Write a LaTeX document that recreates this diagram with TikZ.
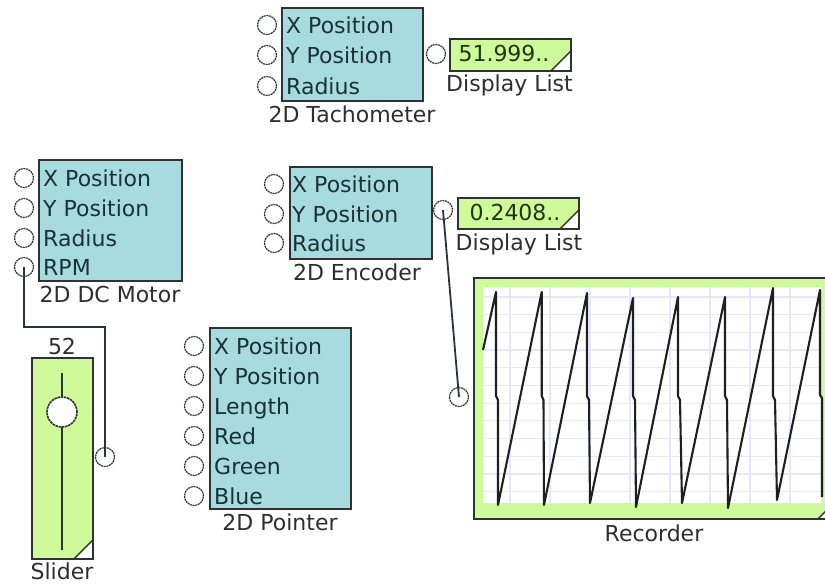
\documentclass[tikz,border=0pt]{standalone}
\usepackage{fontspec}
\setmainfont{DejaVu Sans}
\definecolor{blkfill}{RGB}{168,219,223}
\definecolor{grn}{RGB}{206,250,154}
\definecolor{edge}{RGB}{45,50,50}
\definecolor{pintext}{RGB}{25,50,55}
\definecolor{captext}{RGB}{45,45,50}
\definecolor{disptext}{RGB}{35,50,20}
\definecolor{gridc}{RGB}{230,230,252}
\begin{document}
\begin{tikzpicture}[x=1pt,y=-1pt,
  every node/.style={font=\fontsize{22}{26}\selectfont},
  blk/.style={draw=edge, line width=1.9pt, fill=blkfill, anchor=north west, inner sep=0pt},
  grnbox/.style={blk, fill=grn},
  cornertri/.style={path picture={
    \fill[white] ([xshift=-#1]path picture bounding box.south east) -- (path picture bounding box.south east) -- ([yshift=#1]path picture bounding box.south east) -- cycle;
    \draw[edge, line width=1.4pt] ([xshift=-#1]path picture bounding box.south east) -- ([yshift=#1]path picture bounding box.south east);}},
  portc/.style={circle, draw=edge, line width=1.2pt, dash pattern=on 2pt off 0.7pt, minimum size=19pt, inner sep=0pt},
  pinlbl/.style={anchor=base west, text=pintext, inner sep=0pt},
  captxt/.style={anchor=base, text=captext, inner sep=0pt},
  disptxt/.style={anchor=base, text=disptext, inner sep=0pt},
  wire/.style={draw=edge, line width=1.8pt},
  sawtrace/.style={draw=black!88, line width=2.1pt, line join=round},
]
\useasboundingbox (0,0) rectangle (825,584);

% ---------- 2D Tachometer ----------
\node[blk, minimum width=141pt, minimum height=93pt] (tach) at (281,7) {};
\node[portc] (t1) at (267,25) {};
\node[portc] (t2) at (267,55) {};
\node[portc] (t3) at (267,86) {};
\node[pinlbl] (tl1) at (286,33) {X Position};
\node[pinlbl] (tl2) at (286,63) {Y Position};
\node[pinlbl] (tl3) at (286,94) {Radius};
\node[captxt] (tcap) at (352,122) {2D Tachometer};
\node[portc] (to) at (436,54) {};
\node[grnbox, cornertri=20pt, minimum width=121pt, minimum height=32pt] (td) at (449,38) {};
\node[disptxt] (tdv) at (504,61) {51.999..};
\node[captxt] (tdc) at (509.5,91) {Display List};

% ---------- 2D DC Motor ----------
\node[blk, minimum width=143pt, minimum height=121pt] (motor) at (38,159) {};
\node[portc] (m1) at (24,178) {};
\node[portc] (m2) at (24,208) {};
\node[portc] (m3) at (24,238) {};
\node[portc] (m4) at (24,267) {};
\node[pinlbl] (ml1) at (43,186) {X Position};
\node[pinlbl] (ml2) at (43,216) {Y Position};
\node[pinlbl] (ml3) at (43,246) {Radius};
\node[pinlbl] (ml4) at (43,275) {RPM};
\node[captxt] (mcap) at (110,302) {2D DC Motor};

% ---------- 2D Encoder ----------
\node[blk, minimum width=142pt, minimum height=92pt] (enc) at (289,166) {};
\node[portc] (e1) at (274,184) {};
\node[portc] (e2) at (274,214) {};
\node[portc] (e3) at (274,243) {};
\node[pinlbl] (el1) at (292,192) {X Position};
\node[pinlbl] (el2) at (292,222) {Y Position};
\node[pinlbl] (el3) at (292,251) {Radius};
\node[captxt] (ecap) at (357,280) {2D Encoder};
\node[portc] (eo) at (443,210) {};
\node[grnbox, cornertri=19pt, minimum width=121pt, minimum height=31pt] (ed) at (457,197) {};
\node[disptxt] (edv) at (515,220) {0.2408..};
\node[captxt] (edc) at (519,250) {Display List};

% ---------- 2D Pointer ----------
\node[blk, minimum width=141pt, minimum height=181pt] (ptr) at (209,327) {};
\node[portc] (p1) at (194,346) {};
\node[portc] (p2) at (194,376) {};
\node[portc] (p3) at (194,406) {};
\node[portc] (p4) at (194,436) {};
\node[portc] (p5) at (194,466) {};
\node[portc] (p6) at (194,496) {};
\node[pinlbl] (pl1) at (214,354) {X Position};
\node[pinlbl] (pl2) at (214,384) {Y Position};
\node[pinlbl] (pl3) at (214,414) {Length};
\node[pinlbl] (pl4) at (214,444) {Red};
\node[pinlbl] (pl5) at (214,474) {Green};
\node[pinlbl] (pl6) at (214,504) {Blue};
\node[captxt] (pcap) at (280,530) {2D Pointer};

% ---------- Slider ----------
\node[grnbox, cornertri=19pt, minimum width=61pt, minimum height=201pt] (sl) at (31,357) {};
\node[captxt] (sval) at (62,354.5) {52};
\coordinate (strtop) at (62,373);
\coordinate (strbot) at (62,550);
\draw[edge, line width=2pt] (strtop) -- (strbot);
\node[circle, draw=edge, line width=1.6pt, dash pattern=on 2.5pt off 0.7pt, fill=white, minimum size=30pt, inner sep=0pt] (knob) at (62,412) {};
\node[portc] (sp) at (105,457) {};
\node[captxt] (scap) at (62,579.5) {Slider};

% ---------- Recorder ----------
\begin{scope}
\clip (0,0) rectangle (825,584);
\node[grnbox, cornertri=20pt, minimum width=364pt, minimum height=241pt] (rec) at (473,277) {};
\node[fill=white, anchor=north west, inner sep=0pt, minimum width=338pt, minimum height=216pt] (plot) at (483,287) {};
\begin{scope}
\clip (483,287) rectangle (821,503);
\foreach \gx in {510,550,...,790} \draw[gridc, line width=1.2pt] (\gx,287) -- (\gx,503);
\foreach \gi in {0,...,11} \draw[gridc, line width=1.2pt] (483,{296.9+17.7*\gi}) -- (821,{296.9+17.7*\gi});
\end{scope}
\draw[sawtrace] (483,350) -- (496,292) -- (496,396) -- (498,400) -- (498,505)
  -- (541.7,292) -- (541.7,396) -- (543.5,400) -- (544,505)
  -- (587,293) -- (587,396) -- (589,400) -- (590,503)
  -- (633,298) -- (633,396) -- (635,400) -- (636,507)
  -- (678,297) -- (678,396) -- (680,400) -- (682,503)
  -- (725,297) -- (725,396) -- (727,400) -- (728,508)
  -- (773,288) -- (773,396) -- (775,400) -- (777,500)
  -- (820,290) -- (820,395) -- (822,398) -- (822,497);
\end{scope}
\node[portc] (ri) at (459,397) {};
\node[captxt] (rcap) at (654,541) {Recorder};

% ---------- wires ----------
\draw[wire] (m4.center) -- ++(0,60) -| (sp.center);
\draw[wire] (eo.center) -- (ri.center);
\end{tikzpicture}
\end{document}
